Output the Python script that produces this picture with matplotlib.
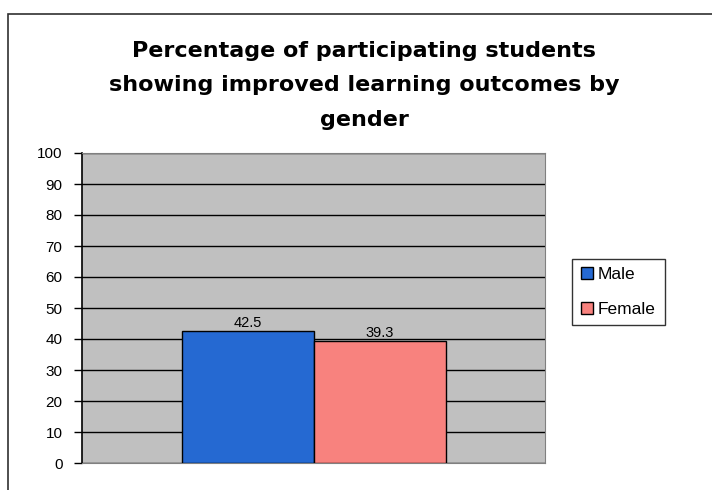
import matplotlib
matplotlib.use("Agg")
import matplotlib.pyplot as plt
from matplotlib.patches import Rectangle, Patch

plt.rcParams['font.family'] = ['Liberation Sans', 'DejaVu Sans']

# data
genders = ["Male", "Female"]
values = [42.5, 39.3]
colors = ["#2569D2", "#F8827E"]
yticks = list(range(0, 101, 10))
title = "Percentage of participating students\nshowing improved learning outcomes by\ngender"

W, H = 712, 490
fig = plt.figure(figsize=(W / 100, H / 100), dpi=100)

# outer chart border (cut off at right and bottom)
fig.patches.append(Rectangle((8 / W, -0.1), 1.2, 1.1 - 14 / H, transform=fig.transFigure,
                             fill=False, edgecolor="#303030", linewidth=1.2))

ax = fig.add_axes([82 / W, (H - 463) / H, 463 / W, 310 / H])
ax.set_facecolor("#C0C0C0")

bw = 132 / 463
offsets = [-bw / 2, bw / 2]
for g, v, c, off in zip(genders, values, colors, offsets):
    ax.bar(off, v, width=bw, color=c, edgecolor="black", linewidth=1, zorder=3)
    ax.text(off, v + 0.3, f"{v:.1f}", ha="center", va="bottom", fontsize=10.5, zorder=4)

ax.set_xlim(-0.5, 0.5)
ax.set_ylim(0, 100)
ax.set_yticks(yticks)
ax.set_xticks([])
ax.yaxis.grid(True, color="black", linewidth=1)
ax.set_axisbelow(True)
ax.tick_params(axis="y", direction="out", length=6, width=1, labelsize=11, pad=8)
for s in ["top", "right", "bottom"]:
    ax.spines[s].set_color("#808080")
ax.spines["left"].set_color("black")
ax.spines["left"].set_linewidth(1.2)

fig.text(364 / W, 1 - 41 / H, title, ha="center", va="top", fontsize=16, fontweight="bold",
         family="DejaVu Sans", linespacing=1.9)

handles = [Patch(facecolor=c, edgecolor="black", label=g) for g, c in zip(genders, colors)]
leg = fig.legend(handles=handles, loc="center left", bbox_to_anchor=(572 / W, 1 - 292 / H),
                 frameon=True, fancybox=False, edgecolor="black", fontsize=12.5,
                 handlelength=0.7, handleheight=0.7, handletextpad=0.3, labelspacing=1.1,
                 borderpad=0.5, borderaxespad=0)
leg.get_frame().set_linewidth(1)

fig.savefig("out.png", dpi=100)
